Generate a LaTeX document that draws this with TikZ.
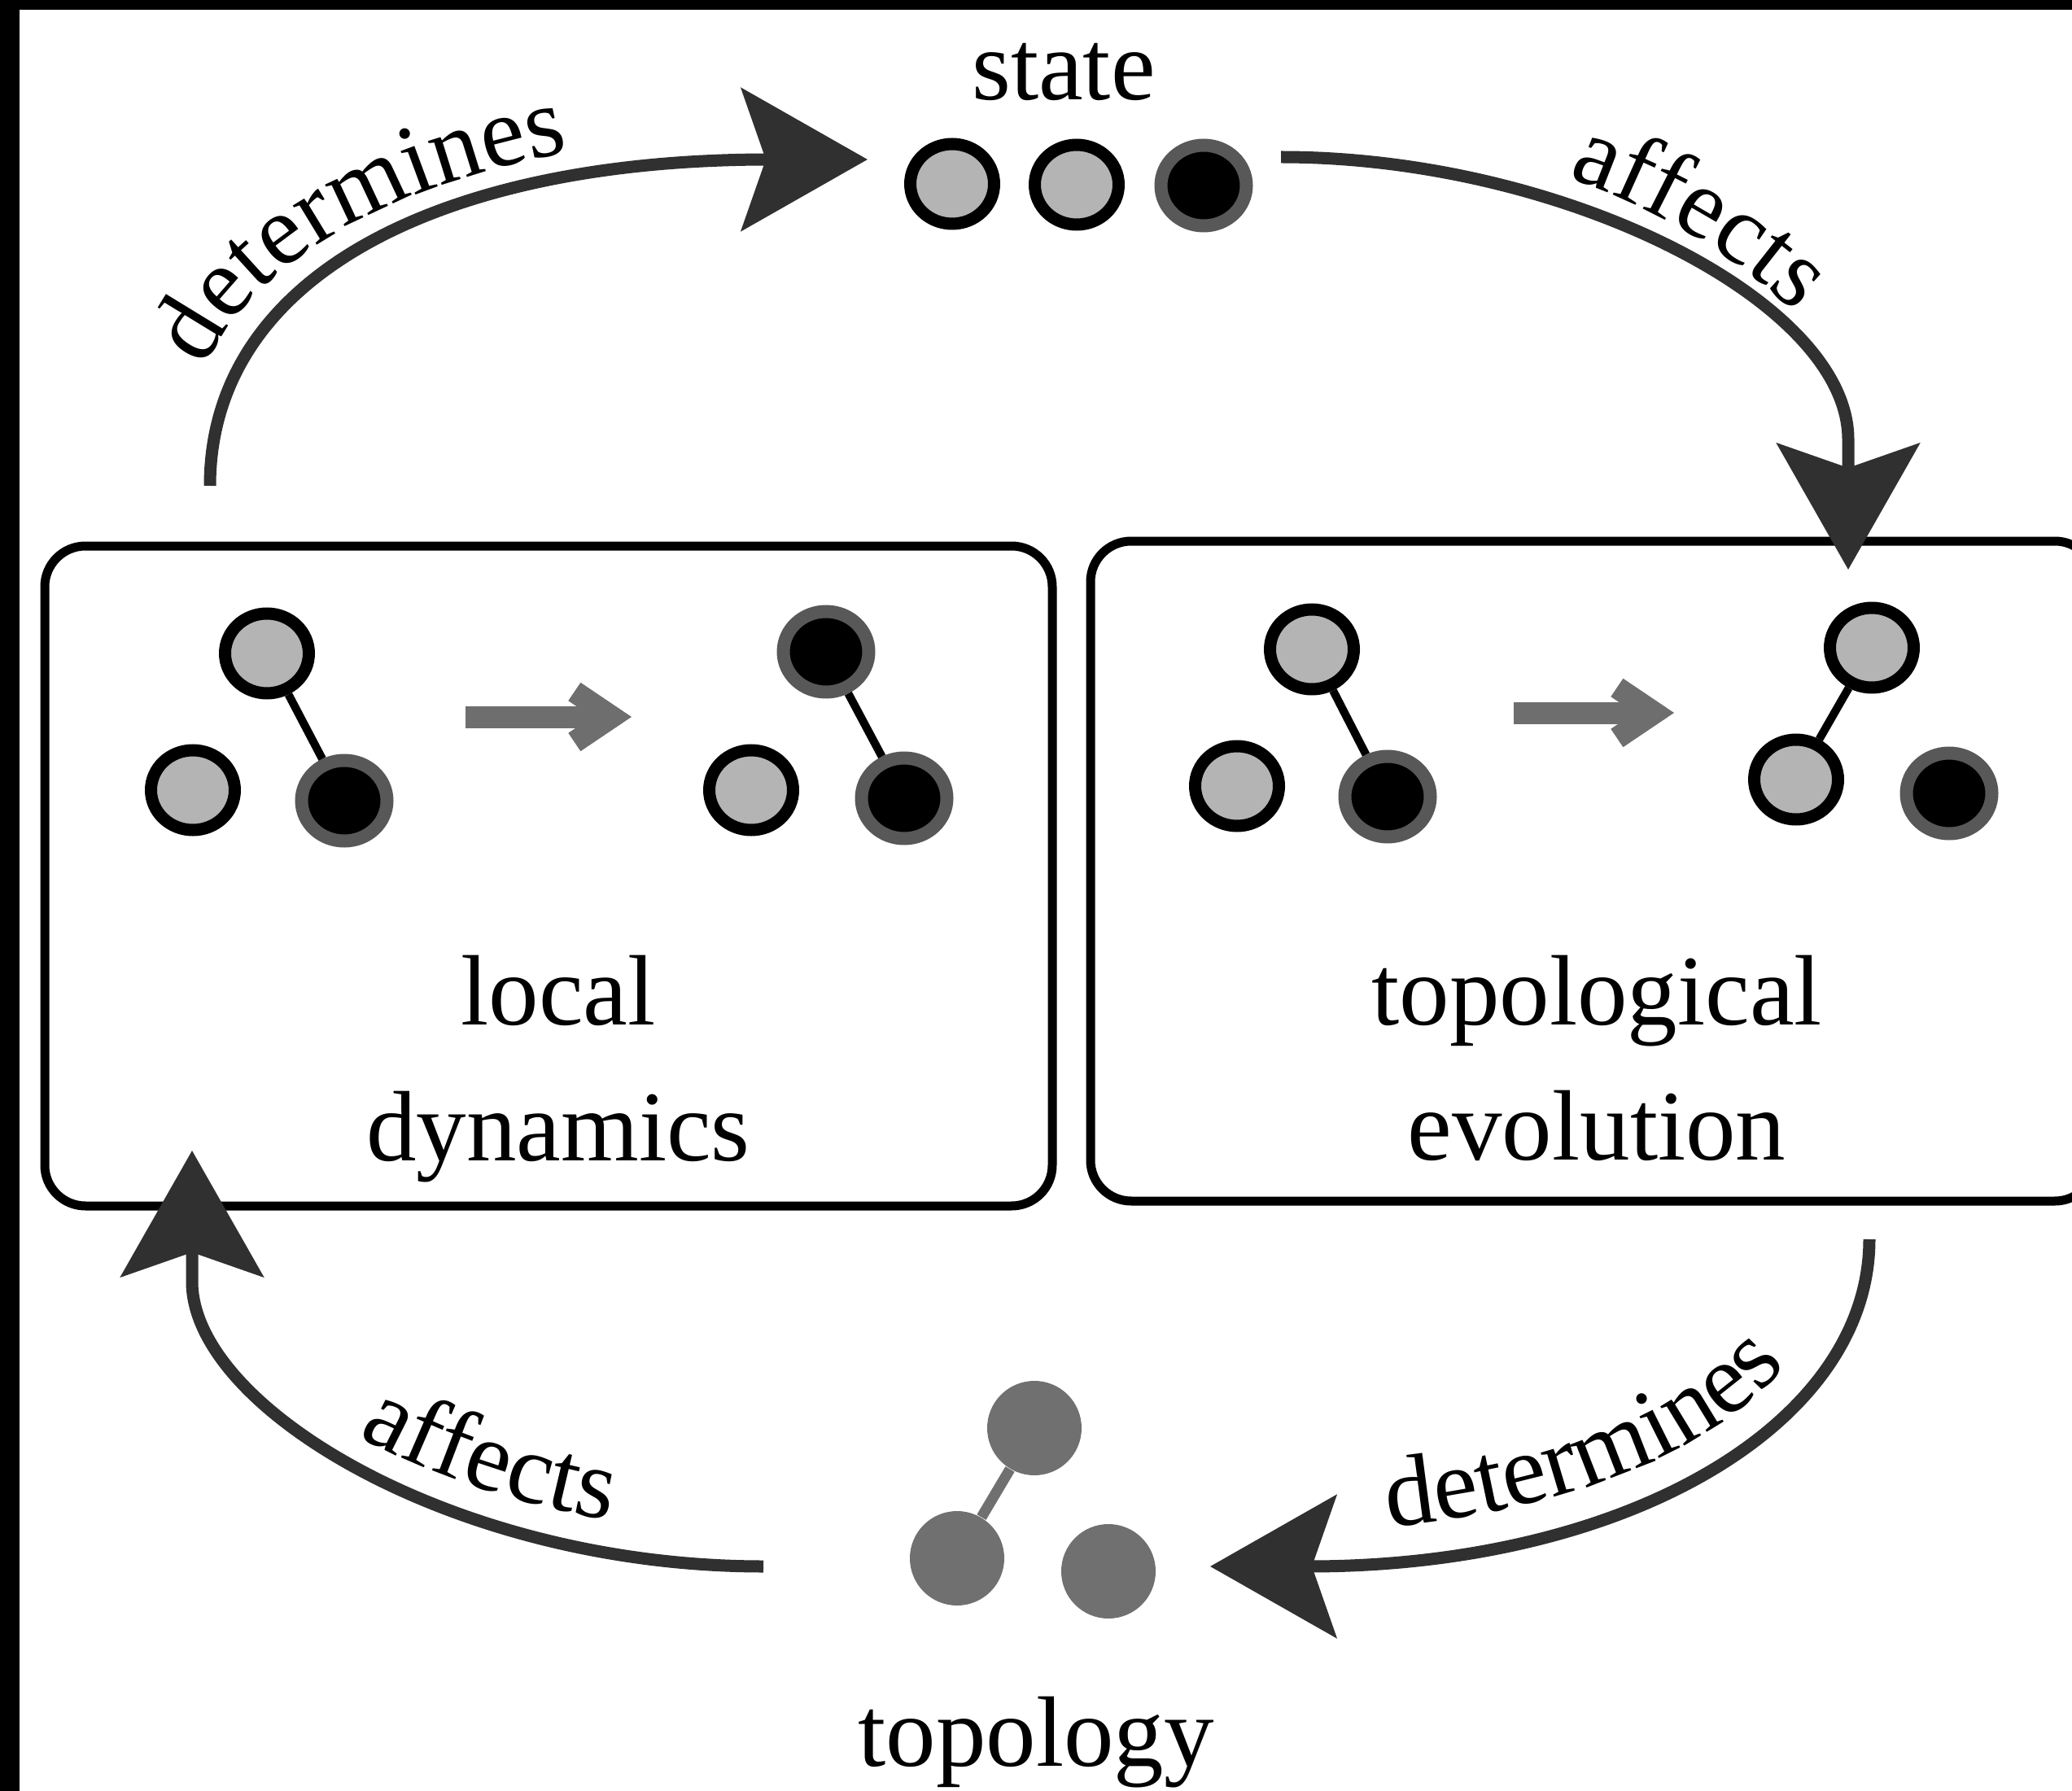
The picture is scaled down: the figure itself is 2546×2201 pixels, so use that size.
\documentclass[tikz,border=0pt]{standalone}
\usepackage{fontspec}
\setmainfont{Liberation Serif}
\usetikzlibrary{arrows.meta,shapes.geometric,decorations.text}
\definecolor{arrowcol}{RGB}{48,48,48}
\definecolor{nodegray}{RGB}{180,180,180}
\definecolor{ringgray}{RGB}{88,88,88}
\definecolor{topogray}{RGB}{112,112,112}
\definecolor{minigray}{RGB}{110,110,110}
\newcommand{\lblfont}{\fontsize{35pt}{42pt}\selectfont}
\begin{document}
\begin{tikzpicture}[x=0.1mm,y=-0.1mm,
  gnode/.style={ellipse, draw=black, fill=nodegray, line width=1.5mm, minimum width=10.3mm, minimum height=9.8mm, inner sep=0pt},
  bnode/.style={ellipse, draw=ringgray, fill=black, line width=1.6mm, minimum width=10.5mm, minimum height=9.9mm, inner sep=0pt},
  tnode/.style={circle, fill=topogray, minimum size=11.6mm, inner sep=0pt},
  edge/.style={line width=1mm, draw=black},
  tedge/.style={line width=1.3mm, draw=topogray},
  box/.style={draw=black, line width=1.1mm, rounded corners=5mm, inner sep=0pt},
  bigarrow/.style={line width=1.5mm, draw=arrowcol, -{Stealth[length=15.5mm,width=17.5mm,inset=3mm]}},
  minarrow/.style={line width=2.7mm, draw=minigray, -{Straight Barb[length=4.6mm,width=6.2mm]}},
  lbl/.style={font=\lblfont, inner sep=0pt}
]
\useasboundingbox (0,0) rectangle (2546,2201);
\clip (0,0) rectangle (2546,2201);
\fill[white] (0,0) rectangle (2546,2201);
\fill[black] (0,0) rectangle (2546,12);
\fill[black] (0,0) rectangle (24,2201);

% boxes
\node[box, minimum width=123.8mm, minimum height=81.1mm] (boxL) at (674,1076.5) {};
\node[box, minimum width=123.5mm, minimum height=81.1mm] (boxR) at (1957.5,1070.5) {};

% left box graphs
\node[gnode] (L1) at (328,803) {};
\node[gnode] (L2) at (237,971) {};
\node[bnode] (L3) at (423,984) {};
\draw[edge] (L1) -- (L3);
\node[bnode] (L4) at (1015,801) {};
\node[gnode] (L5) at (923,971) {};
\node[bnode] (L6) at (1111,981) {};
\draw[edge] (L4) -- (L6);
\coordinate (m1s) at (572,881);
\coordinate (m1e) at (776,881);
\draw[minarrow] (m1s) -- (m1e);

% right box graphs
\node[gnode] (R1) at (1612,798) {};
\node[gnode] (R2) at (1520,966) {};
\node[bnode] (R3) at (1705,979) {};
\draw[edge] (R1) -- (R3);
\node[gnode] (R4) at (2300,796) {};
\node[gnode] (R5) at (2207,958) {};
\node[bnode] (R6) at (2395,975) {};
\draw[edge] (R4) -- (R5);
\coordinate (m2s) at (1860,876);
\coordinate (m2e) at (2057,876);
\draw[minarrow] (m2s) -- (m2e);

% box texts
\node[lbl, anchor=base] (ld1) at (686,1259) {local};
\node[lbl, anchor=base] (ld2) at (686,1426) {dynamics};
\node[lbl, anchor=base] (te1) at (1962,1259) {topological};
\node[lbl, anchor=base] (te2) at (1962,1425) {evolution};

% state
\node[lbl, anchor=base] (state) at (1307,123) {state};
\node[gnode] (S1) at (1170,226) {};
\node[gnode] (S2) at (1323,227) {};
\node[bnode] (S3) at (1479,228) {};

% topology
\node[tnode] (T1) at (1271,1755) {};
\node[tnode] (T2) at (1176,1915) {};
\node[tnode] (T3) at (1362,1931) {};
\draw[tedge] (T1) -- (T2);
\node[lbl, anchor=base] (topo) at (1273,2170) {topology};

% big arrows
\coordinate (a1s) at (258,597);
\coordinate (a1e) at (1066,196);
\draw[bigarrow] (a1s) .. controls (258,340) and (540,196) .. (a1e);
\coordinate (a2s) at (1574,193);
\coordinate (a2m) at (2271,540);
\coordinate (a2e) at (2271,700);
\draw[bigarrow] (a2s) .. controls (1920,193) and (2271,370) .. (a2m) -- (a2e);
\coordinate (a3s) at (2297,1523);
\coordinate (a3e) at (1487,1925);
\draw[bigarrow] (a3s) .. controls (2297,1750) and (2000,1925) .. (a3e);
\coordinate (a4s) at (938,1925);
\coordinate (a4m) at (236,1575);
\coordinate (a4e) at (236,1414);
\draw[bigarrow] (a4s) .. controls (560,1925) and (236,1730) .. (a4m) -- (a4e);

% curved labels
\path[decorate, decoration={text along path, text={|\lblfont|determines}, text align={left indent=15mm}}]
  (218,597) .. controls (218,316) and (530,156) .. (1066,156);
\path[decorate, decoration={text along path, text={|\lblfont|affects}, text align={left indent=36mm}}]
  (1574,155) .. controls (1930,155) and (2309,357) .. (2309,600);
\path[decorate, decoration={text along path, text={|\lblfont|determines}, text align={left indent=22mm}}]
  (1487,1889) .. controls (1990,1889) and (2261,1729) .. (2261,1500);
\path[decorate, decoration={text along path, text={|\lblfont|affects}, text align={left indent=44mm}}]
  (270,1400) -- (270,1575) .. controls (270,1706) and (570,1891) .. (1000,1891);
\end{tikzpicture}
\end{document}
